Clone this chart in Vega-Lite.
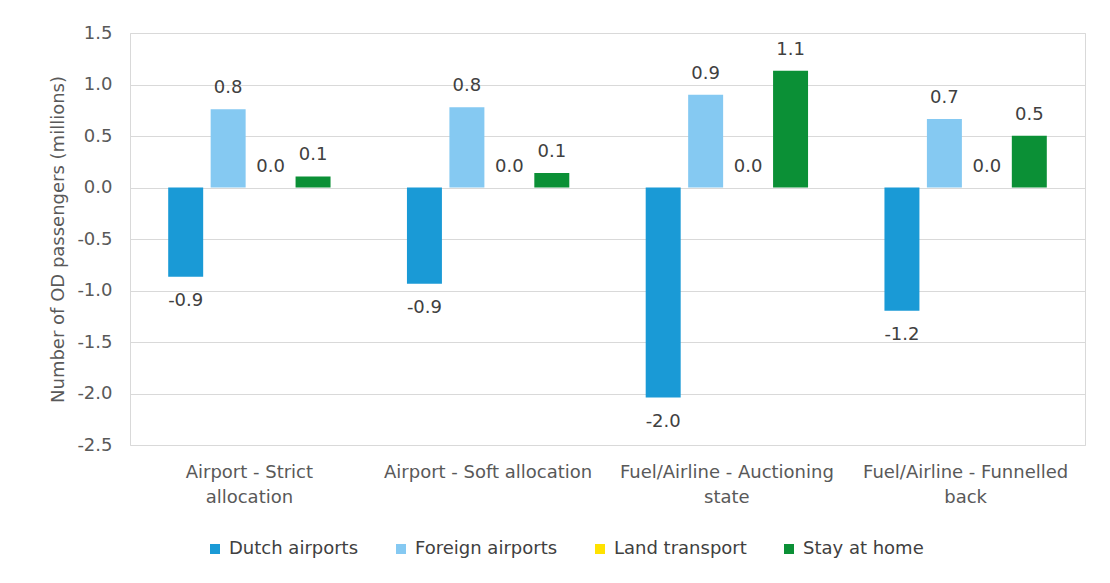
{
  "$schema": "https://vega.github.io/schema/vega-lite/v6.json",
  "width": 955,
  "height": 412,
  "autosize": {"type": "none"},
  "padding": {"left": 130, "top": 33, "right": 25, "bottom": 138},
  "background": "white",
  "config": {
    "font": "DejaVu Sans",
    "view": {"stroke": "#d9d9d9", "strokeWidth": 1}
  },
  "data": {
    "values": [
      {"scenario": "Airport - Strict|allocation", "mode": "Dutch airports", "value": -0.867},
      {"scenario": "Airport - Strict|allocation", "mode": "Foreign airports", "value": 0.76},
      {"scenario": "Airport - Strict|allocation", "mode": "Land transport", "value": 0.0},
      {"scenario": "Airport - Strict|allocation", "mode": "Stay at home", "value": 0.107},
      {"scenario": "Airport - Soft allocation", "mode": "Dutch airports", "value": -0.935},
      {"scenario": "Airport - Soft allocation", "mode": "Foreign airports", "value": 0.78},
      {"scenario": "Airport - Soft allocation", "mode": "Land transport", "value": 0.0},
      {"scenario": "Airport - Soft allocation", "mode": "Stay at home", "value": 0.14},
      {"scenario": "Fuel/Airline - Auctioning|state", "mode": "Dutch airports", "value": -2.04},
      {"scenario": "Fuel/Airline - Auctioning|state", "mode": "Foreign airports", "value": 0.9},
      {"scenario": "Fuel/Airline - Auctioning|state", "mode": "Land transport", "value": 0.0},
      {"scenario": "Fuel/Airline - Auctioning|state", "mode": "Stay at home", "value": 1.133},
      {"scenario": "Fuel/Airline - Funnelled|back", "mode": "Dutch airports", "value": -1.197},
      {"scenario": "Fuel/Airline - Funnelled|back", "mode": "Foreign airports", "value": 0.664},
      {"scenario": "Fuel/Airline - Funnelled|back", "mode": "Land transport", "value": 0.0},
      {"scenario": "Fuel/Airline - Funnelled|back", "mode": "Stay at home", "value": 0.502}
    ]
  },
  "encoding": {
    "x": {
      "field": "scenario",
      "type": "nominal",
      "sort": null,
      "title": null,
      "scale": {"paddingInner": 0.32, "paddingOuter": 0.16},
      "axis": {
        "labelExpr": "split(datum.label, '|')",
        "labelAngle": 0,
        "labelFontSize": 18,
        "labelColor": "#595959",
        "labelPadding": 18,
        "labelLineHeight": 25,
        "labelLimit": 400,
        "labelOverlap": false,
        "labelBound": false,
        "domain": false,
        "ticks": false
      }
    },
    "xOffset": {
      "field": "mode",
      "type": "nominal",
      "sort": ["Dutch airports", "Foreign airports", "Land transport", "Stay at home"],
      "scale": {"paddingInner": 0.176, "paddingOuter": 0}
    },
    "y": {
      "field": "value",
      "type": "quantitative",
      "title": "Number of OD passengers (millions)",
      "scale": {"domain": [-2.5, 1.5], "nice": false},
      "axis": {
        "values": [-2.5, -2, -1.5, -1, -0.5, 0, 0.5, 1, 1.5],
        "labelExpr": "replace(format(datum.value, '.1f'), '\u2212', '-')",
        "labelFontSize": 18,
        "labelColor": "#595959",
        "labelPadding": 18,
        "titleFontSize": 18,
        "titleFontWeight": "normal",
        "titleColor": "#595959",
        "titlePadding": 9,
        "gridColor": "#d9d9d9",
        "domain": false,
        "ticks": false
      }
    }
  },
  "layer": [
    {
      "mark": {"type": "bar"},
      "encoding": {
        "color": {
          "field": "mode",
          "type": "nominal",
          "sort": ["Dutch airports", "Foreign airports", "Land transport", "Stay at home"],
          "scale": {
            "domain": ["Dutch airports", "Foreign airports", "Land transport", "Stay at home"],
            "range": ["#1a9ad6", "#85c9f2", "#ffe200", "#0b9036"]
          },
          "legend": {
            "title": null,
            "orient": "none",
            "legendX": 76,
            "legendY": 507,
            "direction": "horizontal",
            "symbolType": "square",
            "symbolSize": 100,
            "symbolStrokeWidth": 0,
            "labelFontSize": 18,
            "labelColor": "#404040",
            "labelOffset": 5,
            "columnPadding": 33,
            "padding": 0
          }
        }
      }
    },
    {
      "transform": [{"filter": "datum.value >= 0"}],
      "mark": {"type": "text", "baseline": "alphabetic", "dy": -16, "fontSize": 18, "color": "#404040",
        "text": {"expr": "replace(format(datum.value, '.1f'), '\u2212', '-')"}},
      "encoding": {}
    },
    {
      "transform": [{"filter": "datum.value < 0"}],
      "mark": {"type": "text", "baseline": "top", "dy": 15, "fontSize": 18, "color": "#404040",
        "text": {"expr": "replace(format(datum.value, '.1f'), '\u2212', '-')"}},
      "encoding": {}
    }
  ]
}
